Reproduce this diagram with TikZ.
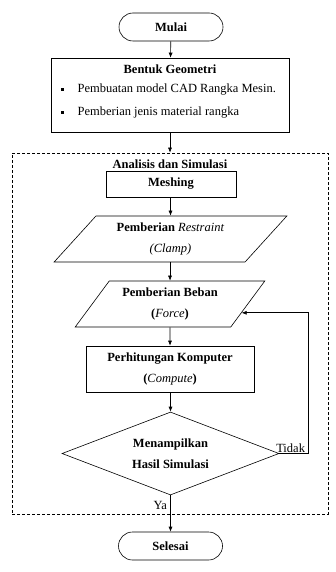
\documentclass[tikz,border=0pt]{standalone}
\usepackage{fontspec}
\setmainfont{Liberation Serif}
\usetikzlibrary{shapes.geometric,arrows.meta}

\begin{document}
\begin{tikzpicture}[x=1pt,y=-1pt,line width=0.6pt,
  every node/.style={font=\fontsize{12.5}{21}\selectfont},
  terminal/.style={draw,rounded corners=14pt,minimum width=104pt,minimum height=28pt,inner sep=0pt},
  proses/.style={draw,align=center,inner sep=0pt},
  datain/.style={draw,trapezium,trapezium stretches=true,align=center,inner sep=0pt,minimum height=46pt},
  keputusan/.style={draw,diamond,aspect=2.6,align=center,inner sep=0pt,minimum width=217pt,minimum height=83pt},
  panah/.style={-{Latex[length=5pt,width=4pt]}}]
  \useasboundingbox (0,0) rectangle (335,572);
  % terminal atas
  \node[terminal] (mulai) at (171,27) {\textbf{Mulai}};
  % bentuk geometri
  \node[proses,minimum width=238pt,minimum height=74pt] (geom) at (170,95) {};
  \node (geomjudul) at (170,69) {\textbf{Bentuk Geometri}};
  \fill (60.5,88.5) rectangle (63.5,91.5);
  \fill (60.5,111.5) rectangle (63.5,114.5);
  \node[anchor=west] (poin1) at (74,90) {Pembuatan model CAD Rangka Mesin.};
  \node[anchor=west] (poin2) at (74,113) {Pemberian jenis material rangka};
  % kotak putus-putus
  \node[draw,dash pattern=on 3pt off 2pt,minimum width=316pt,minimum height=361pt,inner sep=0pt] (simulasi) at (170,333.5) {};
  \node (simjudul) at (170,164) {\textbf{Analisis dan Simulasi}};
  \node[proses,minimum width=130pt,minimum height=26pt] (mesh) at (171,184) {\textbf{Meshing}};
  \node[datain,trapezium left angle=47,trapezium right angle=133,minimum width=233pt] (restraint) at (170.5,239)
    {\textbf{Pemberian} \textit{Restraint}\\ \textit{(Clamp)}};
  \node[datain,trapezium left angle=50.4,trapezium right angle=129.6,minimum width=190pt] (beban) at (170,304)
    {\textbf{Pemberian Beban}\\ \textbf{(}\textit{Force}\textbf{)}};
  \node[proses,minimum width=168pt,minimum height=46pt] (hitung) at (170,369)
    {\textbf{Perhitungan Komputer}\\ \textbf{(}\textit{Compute}\textbf{)}};
  \node[keputusan] (tampil) at (170.5,453.5) {\textbf{Menampilkan}\\ \textbf{Hasil Simulasi}};
  % terminal bawah
  \node[terminal] (selesai) at (170.5,546) {\textbf{Selesai}};
  % panah
  \draw[panah] (mulai) -- (geom);
  \draw[panah] (geom) -- (simulasi.north);
  \draw[panah] (mesh.south -| restraint.north) -- (restraint.north);
  \draw[panah] (restraint.south -| beban.north) -- (beban.north);
  \draw[panah] (beban) -- (hitung);
  \draw[panah] (hitung.south -| tampil.north) -- (tampil.north);
  \draw[panah] (tampil.south) -- (selesai.north) node[pos=0.27,left] {Ya};
  \draw[panah] (tampil.east) -- ++(29,0) coordinate (belok) |- (beban.-7.5);
  \node[anchor=south east,inner sep=1pt] (tidak) at ([xshift=-2pt]belok) {Tidak};
\end{tikzpicture}
\end{document}
